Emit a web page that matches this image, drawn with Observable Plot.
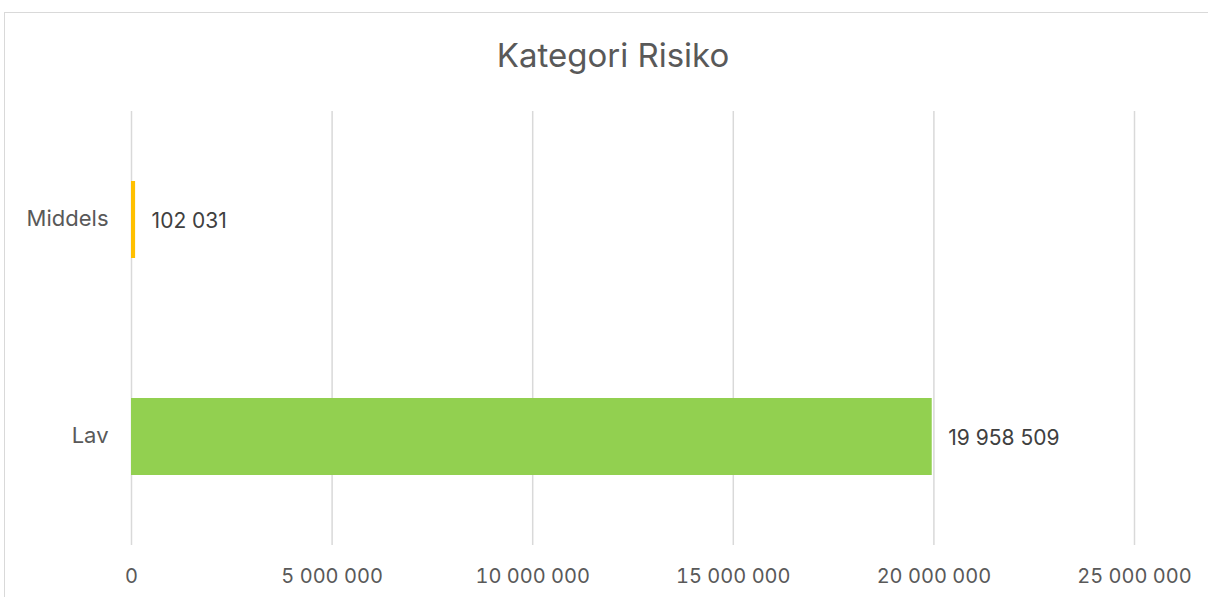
<!DOCTYPE html>
<html>
<head>
<meta charset="utf-8">
<script src="https://cdn.jsdelivr.net/npm/d3@7"></script>
<script src="https://cdn.jsdelivr.net/npm/@observablehq/plot@0.6"></script>
<style>
  html, body { margin: 0; padding: 0; background: #fff; overflow: hidden; }
  #wrap { position: relative; width: 1208px; height: 597px; overflow: hidden; font-family: Inter, "Noto Sans", sans-serif; }
  #frame { position: absolute; left: 4px; top: 12px; width: 1400px; height: 800px; border: 1.5px solid #d9d9d9; box-sizing: border-box; }
  #title { position: absolute; left: 0; width: 1226px; top: 35px; text-align: center; font-size: 33px; color: #595959; }
  #chart { position: absolute; left: 0; top: 0; }
</style>
</head>
<body>
<div id="wrap">
  <div id="frame"></div>
  <div id="title">Kategori Risiko</div>
  <div id="chart"></div>
</div>
<script>
const categories = ["Middels", "Lav"];
const values = [102031, 19958509];
const colors = ["#FFC000", "#92D050"];
const xTicks = [0, 5000000, 10000000, 15000000, 20000000, 25000000];

const data = categories.map((c, i) => ({category: c, value: values[i], color: colors[i]}));
const fmt = v => d3.format(",")(v).replace(/,/g, " ");

const chart = Plot.plot({
  width: 1208,
  height: 597,
  marginLeft: 131,
  marginRight: 74,
  marginTop: 111,
  marginBottom: 52,
  style: {fontFamily: "Inter, 'Noto Sans', sans-serif", background: "transparent", overflow: "visible"},
  x: {domain: [0, 25000000], ticks: xTicks, tickFormat: fmt, label: null},
  y: {domain: categories, paddingInner: 0.645, paddingOuter: 0.3225, label: null},
  marks: [
    Plot.ruleX(xTicks, {stroke: "#d9d9d9", strokeWidth: 1.5}),
    Plot.barX(data, {y: "category", x: "value", fill: "color"}),
    Plot.text(data, {y: "category", x: "value", text: d => fmt(d.value), textAnchor: "start", dx: 16, dy: 1, fontSize: 21, fill: "#404040"}),
    Plot.axisX(xTicks, {tickSize: 0, tickPadding: 23, tickFormat: fmt, fontSize: 20, color: "#595959", label: null}),
    Plot.axisY({tickSize: 0, tickPadding: 23, fontSize: 22, color: "#595959", label: null, dy: -1})
  ]
});
document.getElementById("chart").appendChild(chart);
</script>
</body>
</html>
